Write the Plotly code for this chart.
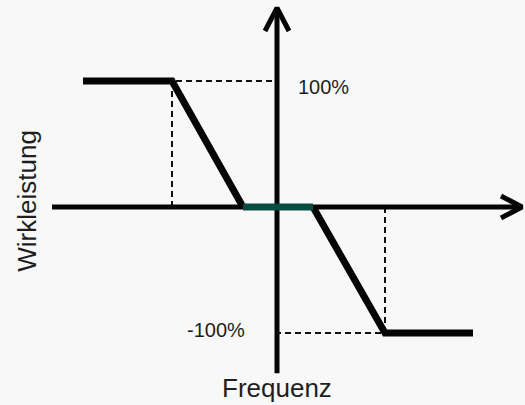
import plotly.graph_objects as go

# Kennlinie Wirkleistung ueber Frequenz
curve_left_x = [-1.94, -1.05, -0.34]
curve_left_y = [100, 100, 0]
deadband_x = [-0.34, 0.36]
deadband_y = [0, 0]
curve_right_x = [0.36, 1.08, 1.96]
curve_right_y = [0, -100, -100]

guide_left_x = [-1.05, -1.05, 0]
guide_left_y = [0, 100, 100]
guide_right_x = [1.08, 1.08, 0]
guide_right_y = [0, -100, -100]

axis_x = [-2.25, 2.45]
axis_y = [-132, 158]
tip_x_arms = [2.24, 2.45, 2.24]
tip_x_arms_y = [8.7, 0, -8.7]
tip_y_arms_x = [-0.12, 0, 0.12]
tip_y_arms = [139.7, 158, 139.7]

labels = ["100%", "-100%"]
label_x = [0.46, -0.61]
label_y = [95, -98]

black = "#050505"
green = "#0b4a40"
dash_col = "#111111"

fig = go.Figure()

def line(x, y, color, width, dash="solid"):
    fig.add_trace(go.Scatter(x=x, y=y, mode="lines", hoverinfo="skip",
                             line=dict(color=color, width=width, dash=dash)))

line(guide_left_x, guide_left_y, dash_col, 2, "6px,4px")
line(guide_right_x, guide_right_y, dash_col, 2, "6px,4px")
line(axis_x, [0, 0], black, 5)
line([0, 0], axis_y, black, 5)
line(tip_x_arms, tip_x_arms_y, black, 5)
line(tip_y_arms_x, tip_y_arms, black, 5)
line(curve_left_x, curve_left_y, black, 7)
line(curve_right_x, curve_right_y, black, 7)
line(deadband_x, deadband_y, green, 7)

annots = []
for t, x, y in zip(labels, label_x, label_y):
    annots.append(dict(x=x, y=y, text=t, showarrow=False, xanchor="center",
                       yanchor="middle", font=dict(size=20, color="#1e1e1e")))
annots.append(dict(x=0, y=-144, text="Frequenz", showarrow=False,
                   font=dict(size=26, color="#1e1e1e"), yanchor="middle"))
annots.append(dict(x=-2.5, y=5, text="Wirkleistung", showarrow=False, textangle=-90,
                   font=dict(size=26, color="#1e1e1e"), yanchor="middle"))

fig.update_layout(
    width=525, height=405,
    margin=dict(l=0, r=0, t=0, b=0),
    paper_bgcolor="#f8f8f8", plot_bgcolor="#f8f8f8",
    showlegend=False,
    font=dict(family="Liberation Sans, Arial, sans-serif"),
    xaxis=dict(range=[-2.77, 2.48], visible=False, fixedrange=True),
    yaxis=dict(range=[-157.14, 164.29], visible=False, fixedrange=True),
    annotations=annots,
)

fig.write_html("out.html", config=dict(displayModeBar=False),
               post_script="document.body.style.margin='0';")
